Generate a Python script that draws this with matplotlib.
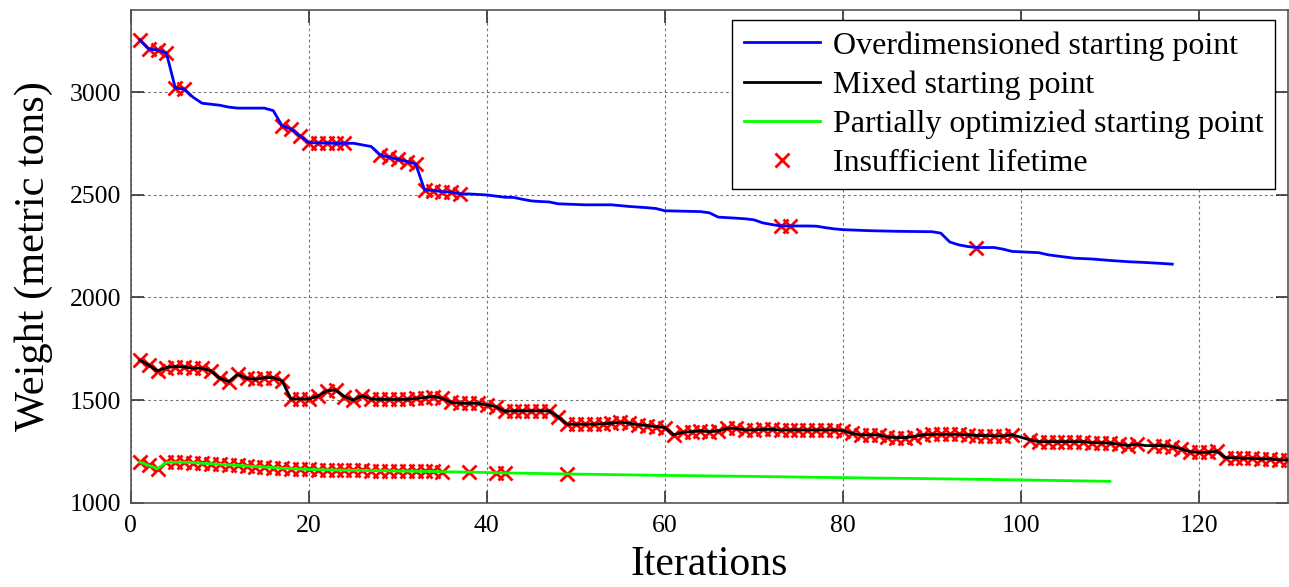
import numpy as np
import matplotlib
matplotlib.use("Agg")
import matplotlib.pyplot as plt

plt.rcParams['font.family'] = ['Liberation Serif', 'DejaVu Serif']

# ---------------- data ----------------
blue_x = [1, 2, 3, 4, 5, 6, 7, 8, 9, 10, 11, 12, 13, 14, 15, 16, 17, 18, 19, 20,
          21, 22, 23, 24, 25, 26, 27, 28, 29, 30, 31, 32, 33, 34, 35, 36, 37, 38,
          40, 42, 43, 44, 45, 46, 47, 48, 51, 54, 56, 58, 59, 60, 64, 65, 66, 68,
          69, 70, 71, 72, 73, 74, 76, 77, 78, 79, 80, 83, 86, 90, 91, 92, 93, 94,
          95, 97, 98, 99, 100, 102, 103, 104, 106, 108, 110, 112, 114, 116, 117]
blue_y = [3255, 3210, 3205, 3190, 3020, 3015, 2975, 2946, 2941, 2936, 2927, 2922,
          2922, 2922, 2922, 2910, 2836, 2820, 2787, 2754, 2752, 2752, 2750, 2750,
          2751, 2743, 2735, 2694, 2683, 2673, 2662, 2650, 2524, 2520, 2515, 2513,
          2504, 2504, 2499, 2488, 2487, 2478, 2470, 2467, 2465, 2456, 2451, 2451,
          2443, 2437, 2433, 2422, 2418, 2412, 2391, 2386, 2383, 2378, 2363, 2355,
          2348, 2348, 2348, 2347, 2340, 2334, 2330, 2325, 2322, 2320, 2313, 2270,
          2256, 2248, 2243, 2243, 2235, 2224, 2222, 2218, 2208, 2202, 2191, 2187,
          2180, 2174, 2170, 2165, 2162]
blue_marks = [1, 2, 3, 4, 5, 6, 17, 18, 19, 20, 21, 22, 23, 24, 28, 29, 30, 31,
              32, 33, 34, 35, 36, 37, 73, 74, 95]

black_x = list(range(1, 131))
black_y = [1695, 1671, 1642, 1658, 1663, 1661, 1655, 1655, 1642, 1606,
           1590, 1626, 1606, 1601, 1609, 1609, 1593, 1505, 1505, 1505,
           1519, 1544, 1549, 1517, 1500, 1521, 1505, 1503, 1503, 1503,
           1503, 1508, 1512, 1517, 1508, 1489, 1484, 1484, 1484, 1476,
           1468, 1445, 1447, 1447, 1447, 1447, 1447, 1419, 1382, 1382,
           1382, 1382, 1384, 1387, 1392, 1387, 1379, 1376, 1370, 1366,
           1330, 1343, 1346, 1349, 1346, 1349, 1362, 1362, 1354, 1354,
           1357, 1357, 1354, 1354, 1354, 1354, 1354, 1354, 1354, 1351,
           1338, 1330, 1330, 1330, 1320, 1317, 1317, 1322, 1330, 1333,
           1333, 1333, 1333, 1330, 1327, 1327, 1325, 1325, 1330, 1319,
           1306, 1297, 1297, 1297, 1297, 1297, 1297, 1292, 1292, 1290,
           1285, 1278, 1285, 1278, 1278, 1278, 1273, 1262, 1248, 1245,
           1245, 1251, 1219, 1219, 1216, 1216, 1213, 1213, 1208, 1208]
black_no_mark = [100, 114]

green_x = list(range(1, 36)) + [38, 41, 42, 49, 60, 70, 80, 90, 100, 110]
green_y = [1198, 1182, 1166, 1196, 1197, 1197, 1195, 1192, 1190, 1187,
           1184, 1182, 1179, 1176, 1174, 1171, 1168, 1166, 1164, 1162,
           1161, 1160, 1159, 1158, 1158, 1157, 1156, 1156, 1155, 1154,
           1154, 1153, 1152, 1152, 1151,
           1149, 1146, 1145, 1140, 1133, 1128, 1122, 1117, 1111, 1104]
green_marks = list(range(1, 36)) + [38, 41, 42, 49]

labels = ["Overdimensioned starting point", "Mixed starting point",
          "Partially optimizied starting point", "Insufficient lifetime"]
x_ticks = [0, 20, 40, 60, 80, 100, 120]
y_ticks = [1000, 1500, 2000, 2500, 3000]

# ---------------- figure ----------------
fig = plt.figure(figsize=(12.89, 5.87), dpi=100)
ax = fig.add_axes([130.8 / 1289, 1 - 502.7 / 587, (1288 - 130.8) / 1289, (502.7 - 10) / 587])

bd = dict(zip(blue_x, blue_y))
kd = dict(zip(black_x, black_y))
gd = dict(zip(green_x, green_y))
black_marks = [i for i in black_x if i not in black_no_mark]
mx = blue_marks + black_marks + green_marks
my = [bd[i] for i in blue_marks] + [kd[i] for i in black_marks] + [gd[i] for i in green_marks]

hm, = ax.plot(mx, my, linestyle='none', marker='x', color='#ff0000',
              markersize=9.5, markeredgewidth=2.0, zorder=2)
hb, = ax.plot(blue_x, blue_y, color='#0000ff', lw=2.0, zorder=3)
hk, = ax.plot(black_x, black_y, color='black', lw=2.0, zorder=3)
hg, = ax.plot(green_x, green_y, color='#00ff00', lw=2.0, zorder=3)

ax.set_xlim(0, 130)
ax.set_ylim(1000, 3400)
ax.set_xticks(x_ticks)
ax.set_yticks(y_ticks)
ax.tick_params(direction='in', length=9, width=1.2, labelsize=18.5, top=True, right=True,
               colors='#333333', labelcolor='black')
ax.tick_params(axis='x', pad=9)
ax.tick_params(axis='y', pad=7)
ax.grid(True, color='#777777', linestyle=(0, (2.5, 2.5)), linewidth=0.8)
for s in ax.spines.values():
    s.set_color('#555555')
    s.set_linewidth(1.2)

ax.set_xlabel("Iterations", fontsize=30, labelpad=6)
ax.set_ylabel("Weight (metric tons)", fontsize=30.5, labelpad=12)

leg = ax.legend([hb, hk, hg, hm], labels, loc='upper right',
                bbox_to_anchor=(1275 / 1289, 1 - 20 / 587), bbox_transform=fig.transFigure,
                borderaxespad=0, fontsize=23, fancybox=False, framealpha=1,
                edgecolor='black', handlelength=2.4, handletextpad=0.4,
                labelspacing=0.3, borderpad=0.35)
leg.get_frame().set_linewidth(1.0)

fig.savefig("out.png", dpi=100)
